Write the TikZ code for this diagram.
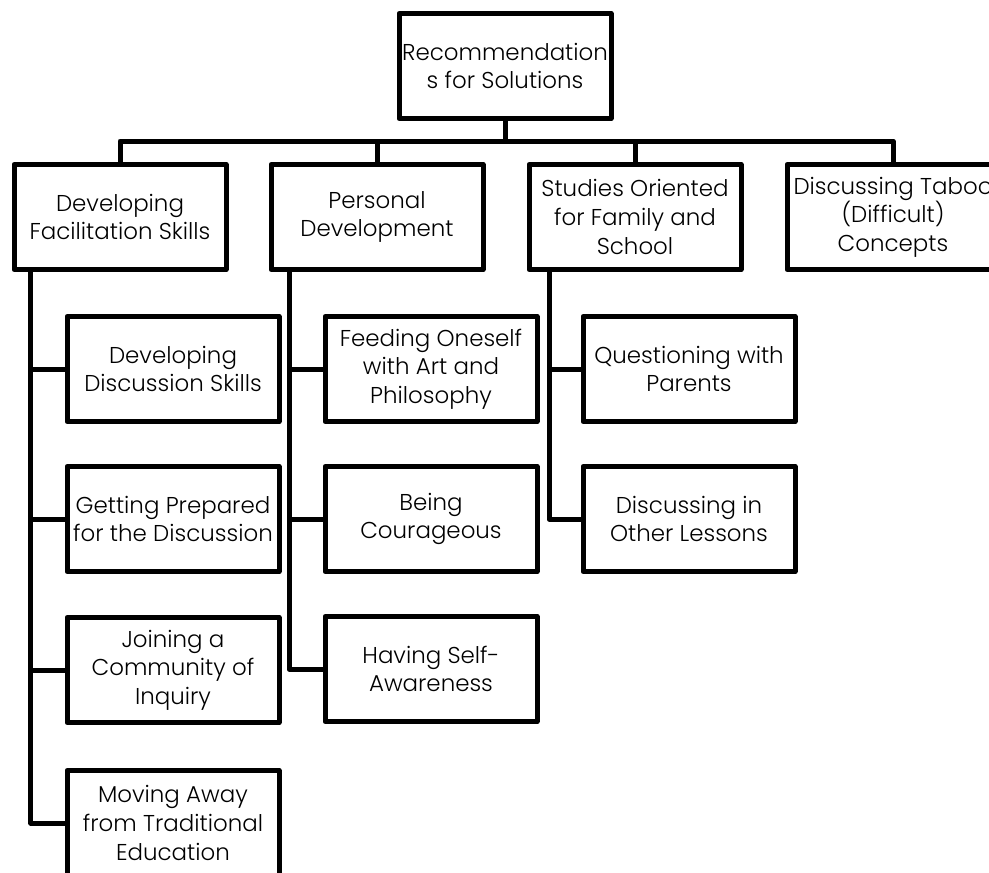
\documentclass[tikz,border=0pt]{standalone}
\usepackage{fontspec}
\IfFontExistsTF{Poppins Light}{\setmainfont{Poppins Light}}{\setmainfont{Poppins}}
\begin{document}
\begin{tikzpicture}[x=0.75pt,y=-0.75pt,line width=3.75pt,line join=round,
   box/.style={draw,align=center,minimum width=159pt,minimum height=78.75pt,inner sep=0pt,
     font=\fontsize{17.2pt}{21.5pt}\selectfont}]

 \useasboundingbox (0,0) rectangle (989,872);
 \clip (0,0) rectangle (989,872);

	\node[box] (root) at (505,66) {Recommendation\\s for Solutions};

	\node[box] (dfs) at (120,217) {Developing\\Facilitation Skills};
	\node[box] (pd) at (377,217) {Personal\\Development};
	\node[box] (sofs) at (635,217) {Studies Oriented\\for Family and\\School};
	\node[box] (dtc) at (893,217) {Discussing Taboo\\(Difficult)\\Concepts};

	 \coordinate (bar) at (505,141);
	 \foreach \c in {dfs,pd,sofs,dtc}
	   \draw (root.south) -- (bar) -| (\c.north);

	\node[box] (dds) at (173,369) {Developing\\Discussion Skills};
	\node[box] (gpd) at (173,519) {Getting Prepared\\for the Discussion};
	\node[box] (jci) at (173,670) {Joining a\\Community of\\Inquiry};
	\node[box] (mat) at (173,823) {Moving Away\\from Traditional\\Education};

	\node[box] (foap) at (431,369) {Feeding Oneself\\with Art and\\Philosophy};
	\node[box] (bc) at (431,519) {Being\\Courageous};
	\node[box] (hsa) at (431,669) {Having Self-\\Awareness};

	\node[box] (qwp) at (689,369) {Questioning with\\Parents};
	\node[box] (dol) at (689,519) {Discussing in\\Other Lessons};

	 \foreach \k in {dds,gpd,jci,mat}
	   \draw ([xshift=14.5pt]dfs.south west) |- (\k.west);
	 \foreach \k in {foap,bc,hsa}
	   \draw ([xshift=15.5pt]pd.south west) |- (\k.west);
	 \foreach \k in {qwp,dol}
	   \draw ([xshift=17pt]sofs.south west) |- (\k.west);

\end{tikzpicture}
\end{document}
